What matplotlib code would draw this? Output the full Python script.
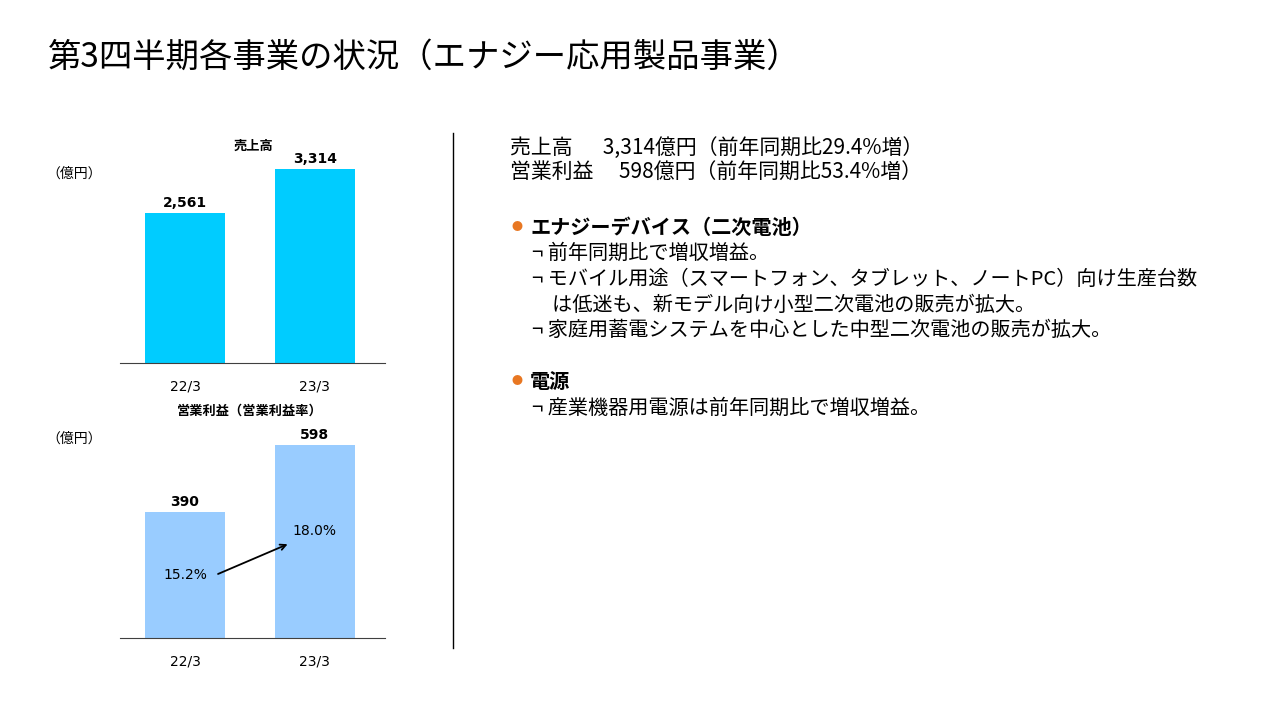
import matplotlib.pyplot as plt
from matplotlib.lines import Line2D

plt.rcParams["font.family"] = "Noto Sans CJK JP"

periods = ["22/3", "23/3"]
sales = [2561, 3314]
profit = [390, 598]
margin = ["15.2%", "18.0%"]
sales_labels = ["2,561", "3,314"]

W, H = 1281, 720
fig = plt.figure(figsize=(W / 100, H / 100), dpi=100)


def fx(px):
    return px / W


def fy(py):
    return 1 - py / H


def bar_axes(top, base, vals, ymax, color, labels):
    ax = fig.add_axes([fx(120), fy(base), fx(265), (base - top) / H])
    ax.bar([0, 1], vals, width=0.62, color=color)
    ax.set_xlim(-0.5, 1.54)
    ax.set_ylim(0, ymax)
    for s in ["top", "right", "left"]:
        ax.spines[s].set_visible(False)
    ax.spines["bottom"].set_color("#404040")
    ax.set_yticks([])
    ax.set_xticks([0, 1])
    ax.set_xticklabels(periods, fontsize=10, fontfamily="DejaVu Sans")
    ax.tick_params(axis="x", length=0, pad=12)
    for i, v in enumerate(vals):
        ax.text(i, v + ymax * 0.015, labels[i], ha="center", va="bottom",
                fontsize=10, fontweight="bold", fontfamily="DejaVu Sans")
    return ax

ax1 = bar_axes(130, 363, sales, 3314 * 233 / 194, "#00CCFF", sales_labels)
ax2 = bar_axes(405, 638, profit, 598 * 233 / 193, "#99CCFF", [str(v) for v in profit])

ax2.text(0, 195, margin[0], ha="center", va="center", fontsize=10, fontfamily="DejaVu Sans")
ax2.text(1, 331, margin[1], ha="center", va="center", fontsize=10, fontfamily="DejaVu Sans")
ax2.annotate("", xy=(0.81, 294), xytext=(0.235, 195),
             arrowprops=dict(arrowstyle="->", color="black", lw=1.3))

fig.text(fx(253), fy(146), "売上高", ha="center", va="center", fontsize=9.5, fontweight="bold")
fig.text(fx(250), fy(411), "営業利益（営業利益率）", ha="center", va="center", fontsize=9.5, fontweight="bold")
fig.text(fx(46), fy(174), "（億円）", va="center", fontsize=10)
fig.text(fx(46), fy(439), "（億円）", va="center", fontsize=10)

fig.text(fx(48), fy(57), "第3四半期各事業の状況（エナジー応用製品事業）", va="center", fontsize=24)

fig.add_artist(Line2D([fx(453), fx(453)], [fy(133), fy(648)], color="black", lw=1))

fig.text(fx(510), fy(148), "売上高　  3,314億円（前年同期比29.4%増）", va="center", fontsize=15)
fig.text(fx(510), fy(173), "営業利益　 598億円（前年同期比53.4%増）", va="center", fontsize=15)

fig.text(fx(512), fy(227), "●", va="center", fontsize=8, color="#E87722")
fig.text(fx(530), fy(227), "エナジーデバイス（二次電池）", va="center", fontsize=14.5, fontweight="bold")
lines = [
    (253, "¬ 前年同期比で増収増益。"),
    (280, "¬ モバイル用途（スマートフォン、タブレット、ノートPC）向け生産台数"),
    (305, "　は低迷も、新モデル向け小型二次電池の販売が拡大。"),
    (330, "¬ 家庭用蓄電システムを中心とした中型二次電池の販売が拡大。"),
]
for y, t in lines:
    fig.text(fx(532), fy(y), t, va="center", fontsize=14.5)

fig.text(fx(512), fy(381), "●", va="center", fontsize=8, color="#E87722")
fig.text(fx(530), fy(381), "電源", va="center", fontsize=14.5, fontweight="bold")
fig.text(fx(532), fy(408), "¬ 産業機器用電源は前年同期比で増収増益。", va="center", fontsize=14.5)

fig.savefig("out.png", dpi=100)
